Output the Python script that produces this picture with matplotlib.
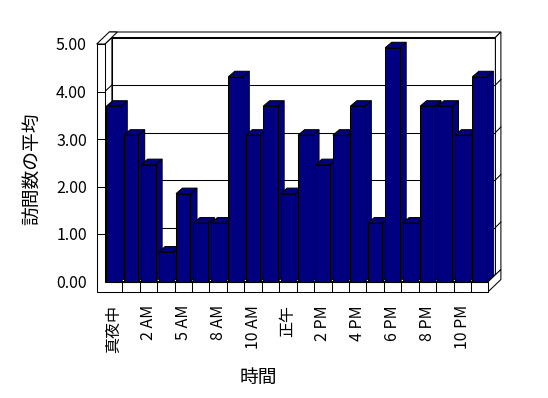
import matplotlib
matplotlib.use("Agg")
import matplotlib.pyplot as plt
from matplotlib.patches import Polygon

plt.rcParams['font.family'] = ['Noto Sans CJK JP', 'DejaVu Sans']

# hour categories (every other one is labelled on the axis)
hours = ['真夜中', '1 AM', '2 AM', '3 AM', '5 AM', '7 AM', '8 AM', '9 AM',
         '10 AM', '11 AM', '正午', '1 PM', '2 PM', '3 PM', '4 PM', '5 PM',
         '6 PM', '7 PM', '8 PM', '9 PM', '10 PM', '11 PM']
avg_visits = [3.69, 3.08, 2.46, 0.62, 1.85, 1.23, 1.23, 4.31, 3.08, 3.69, 1.85,
              3.08, 2.46, 3.08, 3.69, 1.23, 4.92, 1.23, 3.69, 3.69, 3.08, 4.31]
y_ticks = [0, 1, 2, 3, 4, 5]

NAVY = '#000080'
LW = 0.75

W, H = 548, 398
fig = plt.figure(figsize=(W / 100, H / 100), dpi=100)
x_left, x_right = 104.9, 488.4      # pixel edges of the category area
y_zero, y_top = 281.5, 44.0         # pixel rows of 0 and 5
ax = fig.add_axes([x_left / W, (H - y_zero) / H,
                   (x_right - x_left) / W, (y_zero - y_top) / H])
n = len(hours)
ax.set_xlim(-0.5, n - 0.5)
ax.set_ylim(0, 5)
for s in ax.spines.values():
    s.set_visible(False)
ax.patch.set_visible(False)

# pixel -> data unit helpers
ux = n / (x_right - x_left)
uy = 5 / (y_zero - y_top)
d1x, d1y = 7 * ux, 6.5 * uy         # front plane -> back wall face
dx, dy = 12.5 * ux, 12 * uy         # front plane -> back wall outer side
wall = 8.2 * ux
ft = 10 * uy
xi = -0.5
xo = xi - wall
xr = n - 0.5


def poly(pts, z, fc='white'):
    ax.add_patch(Polygon(pts, closed=True, facecolor=fc, edgecolor='black',
                         lw=LW, zorder=z, clip_on=False))


def seg(xs, ys, z):
    ax.plot(xs, ys, color='black', lw=LW, zorder=z, clip_on=False)


# back wall
poly([(xi + d1x, d1y), (xr + d1x, d1y), (xr + d1x, 5 + d1y), (xi + d1x, 5 + d1y)], 1)
poly([(xo + dx, 5 + dy), (xr + dx, 5 + dy), (xr + d1x, 5 + d1y), (xi + d1x, 5 + d1y)], 1)
poly([(xr + d1x, d1y), (xr + dx, dy), (xr + dx, 5 + dy), (xr + d1x, 5 + d1y)], 1)
for t in y_ticks[1:-1]:
    seg([xi + d1x, xr + d1x], [t + d1y, t + d1y], 1.5)
    seg([xr + d1x, xr + dx], [t + d1y, t + dy], 1.5)

# floor
poly([(xi, 0), (xr, 0), (xr + d1x, d1y), (xi + d1x, d1y)], 2)
poly([(xr, -ft), (xr + dx, -ft + dy), (xr + dx, dy), (xr, 0)], 2)

# left wall
poly([(xi, 0), (xi + d1x, d1y), (xi + d1x, 5 + d1y), (xi, 5)], 2)
poly([(xo, 5), (xi, 5), (xi + dx, 5 + dy), (xo + dx, 5 + dy)], 2)
for t in y_ticks[1:-1]:
    seg([xi, xi + d1x], [t, t + d1y], 2.5)

# front faces of the left wall and the floor
poly([(xo, -ft), (xr, -ft), (xr, 0), (xi, 0), (xi, 5), (xo, 5)], 3)
for t in y_ticks[1:-1]:
    seg([xo, xi], [t, t], 3.5)
for k in range(1, n):
    seg([k - 0.5, k - 0.5], [0, -ft], 3.5)

# bars with depth
bw = 0.83
bdx, bdy = 6.5 * ux, 5.5 * uy
xs = [i - 0.42 + bw / 2 for i in range(n)]
bars = ax.bar(xs, avg_visits, width=bw, color=NAVY, edgecolor='black', lw=LW)
for i, (b, v) in enumerate(zip(bars, avg_visits)):
    x0 = b.get_x()
    x1 = x0 + bw
    z = 4 + i * 0.01
    poly([(x1, 0), (x1 + bdx, bdy), (x1 + bdx, v + bdy), (x1, v)], z, NAVY)
    poly([(x0, v), (x1, v), (x1 + bdx, v + bdy), (x0 + bdx, v + bdy)], z, NAVY)
    b.set_zorder(z + 0.005)
    b.set_clip_on(False)

# axis text
ax.set_yticks(y_ticks, labels=[f'{t:.2f}' for t in y_ticks], fontsize=11.5)
ax.tick_params(axis='y', length=0, pad=13)
ax.set_xticks(range(0, n, 2), labels=hours[::2], rotation=90, fontsize=11.5)
ax.tick_params(axis='x', length=0, pad=17)
ax.set_ylabel('訪問数の平均', fontsize=13.5)
ax.yaxis.set_label_coords(-0.162, 0.475)
ax.set_xlabel('時間', fontsize=13.5)
ax.xaxis.set_label_coords(0.399, -0.36)

fig.savefig('out.png', dpi=100)
